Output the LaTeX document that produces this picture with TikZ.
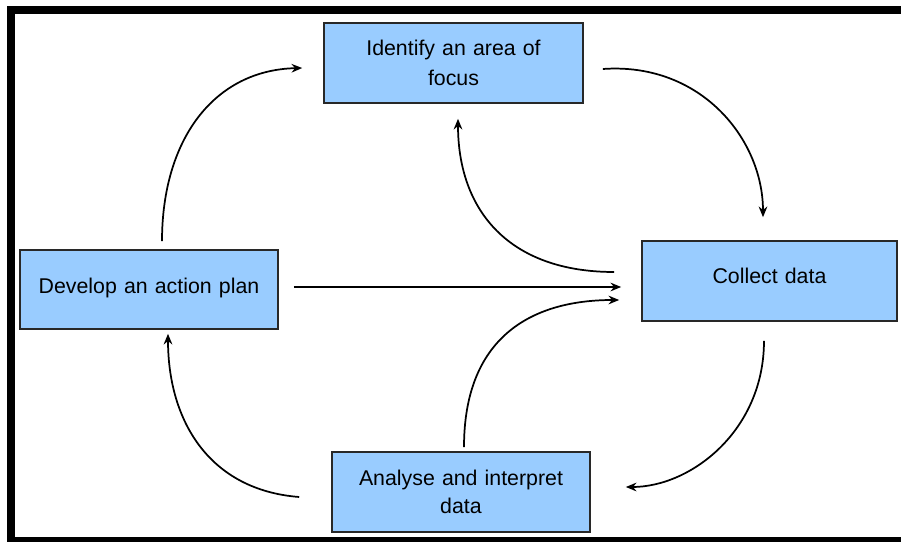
\documentclass[tikz,border=0pt]{standalone}
\usepackage{fontspec}
\setmainfont{Liberation Sans}
\usetikzlibrary{arrows.meta,calc}
\definecolor{boxblue}{RGB}{153,204,255}
\definecolor{boxline}{RGB}{40,40,40}
\begin{document}
\begin{tikzpicture}[x=0.75pt,y=-0.75pt,
  stagebox/.style={draw=boxline,line width=1.2pt,fill=boxblue,inner sep=0pt,
    align=center,text width=180pt,font=\fontsize{16}{21}\selectfont},
  conn/.style={line width=1.3pt,-{Stealth[length=8pt,width=6.5pt]}}]
\useasboundingbox (0,0) rectangle (901,542);
% outer frame
\draw[line width=6pt] (10.5,10) rectangle (920,541);

% stages of the cycle (sizes in pt = 0.75 x pixel size)
\node[stagebox,minimum width=194.25pt,minimum height=60pt] (ident) at (453.5,63) {\raisebox{1pt}{Identify an area of}\\focus};
\node[stagebox,minimum width=193.5pt,minimum height=59.25pt] (dev) at (149,289.5) {\raisebox{5pt}{Develop an action plan}};
\node[stagebox,minimum width=191.25pt,minimum height=60pt] (coll) at (769.5,281) {\raisebox{7.5pt}{Collect data}};
\node[stagebox,minimum width=193.5pt,minimum height=60pt] (anal) at (461,492) {Analyse and interpret\\data};

% connector end points
\coordinate (a1s) at ($(dev.north)+(13,-8)$);
\coordinate (a1e) at ($(ident.west)+(-21,5)$);
\coordinate (a2s) at ($(ident.east)+(19,6)$);
\coordinate (a2e) at ($(coll.north)+(-6.5,-23)$);
\coordinate (a3s) at ($(coll.west)+(-27,-9)$);
\coordinate (a3e) at ($(ident.south)+(4.5,15)$);
\coordinate (a4s) at ($(dev.east)+(15,-2.5)$);
\coordinate (a4e) at ($(coll.west)+(-20,6)$);
\coordinate (a5s) at ($(anal.north)+(3,-4)$);
\coordinate (a5e) at ($(coll.west)+(-22,19)$);
\coordinate (a6s) at ($(coll.south)+(-5.5,19)$);
\coordinate (a6e) at ($(anal.east)+(35,-5)$);
\coordinate (a7s) at ($(anal.west)+(-32,5)$);
\coordinate (a7e) at ($(dev.south)+(19,4)$);

% cycle connectors
\draw[conn] (a1s) .. controls +(0,-102) and +(-88,2) .. (a1e);
\draw[conn] (a2s) .. controls +(98,-7) and +(0,-78) .. (a2e);
\draw[conn] (a3s) .. controls +(-105,0) and +(0,92) .. (a3e);
\draw[conn] (a4s) -- (a4e);
\draw[conn] (a5s) .. controls +(0,-108) and +(-90,0) .. (a5e);
\draw[conn] (a6s) .. controls +(0,90) and +(65,0) .. (a6e);
\draw[conn] (a7s) .. controls +(-90,-7) and +(0,87) .. (a7e);
\end{tikzpicture}
\end{document}
